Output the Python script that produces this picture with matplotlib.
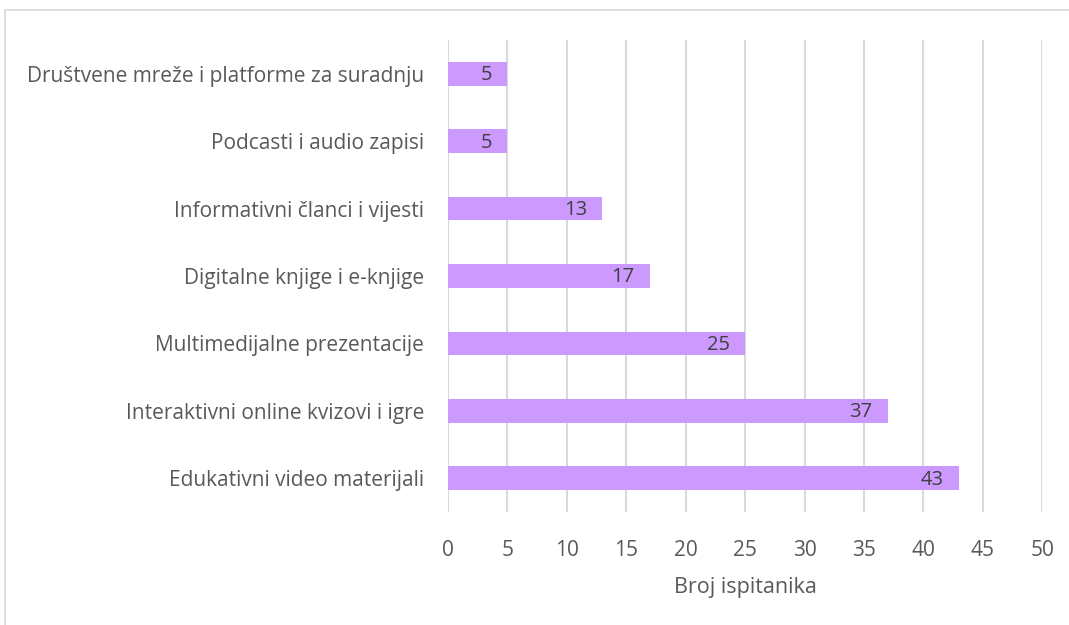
import matplotlib.pyplot as plt
from matplotlib.patches import Rectangle

# podaci
categories = [
    "Edukativni video materijali",
    "Interaktivni online kvizovi i igre",
    "Multimedijalne prezentacije",
    "Digitalne knjige i e-knjige",
    "Informativni članci i vijesti",
    "Podcasti i audio zapisi",
    "Društvene mreže i platforme za suradnju",
]
values = [43, 37, 25, 17, 13, 5, 5]
x_ticks = [0, 5, 10, 15, 20, 25, 30, 35, 40, 45, 50]

text_color = "#595959"
bar_color = "#CC99FF"
grid_color = "#D9D9D9"

plt.rcParams['font.family'] = ['Open Sans', 'DejaVu Sans']

fig = plt.figure(figsize=(10.69, 6.25), dpi=100)
ax = fig.add_axes([0.419, 0.181, 0.556, 0.755])

# okvir grafikona (desni i donji rub izvan slike)
fig.patches.append(Rectangle((0.005, -0.05), 1.1, 1.034, transform=fig.transFigure,
                             fill=False, edgecolor=grid_color, linewidth=1.2))

bars = ax.barh(categories, values, height=0.35, color=bar_color, zorder=3)

for bar, v in zip(bars, values):
    ax.annotate(str(v), (bar.get_width(), bar.get_y() + bar.get_height() / 2),
                xytext=(-11, -1), textcoords="offset points",
                ha="right", va="center", fontsize=14.5, color="#404040", zorder=4)

ax.set_xlim(0, 50)
ax.set_ylim(-0.5, len(categories) - 0.5)
ax.set_xticks(x_ticks)
ax.xaxis.grid(True, color=grid_color, linewidth=1.5, zorder=0)
ax.set_axisbelow(True)

for s in ax.spines.values():
    s.set_visible(False)

ax.tick_params(axis="both", length=0, colors=text_color, labelsize=15)
ax.tick_params(axis="x", pad=20)
ax.tick_params(axis="y", pad=17)
ax.set_xlabel("Broj ispitanika", fontsize=15.5, color=text_color, labelpad=12)

fig.savefig("out.png", dpi=100, facecolor="white")
